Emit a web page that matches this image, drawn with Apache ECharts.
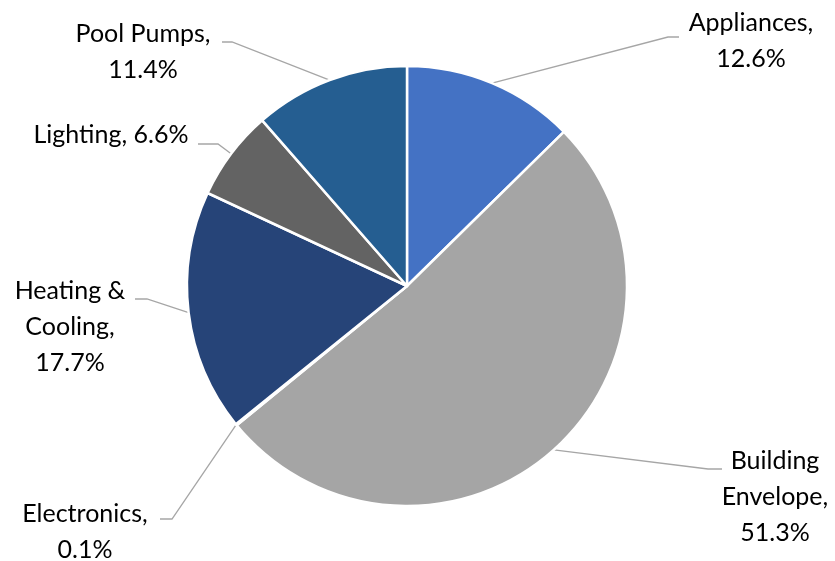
<!DOCTYPE html>
<html>
<head>
<meta charset="utf-8">
<script src="https://cdn.jsdelivr.net/npm/echarts@6/dist/echarts.min.js"></script>
<style>
  html, body { margin: 0; padding: 0; background: #ffffff; }
  #chart { width: 835px; height: 561px; }
</style>
</head>
<body>
<div id="chart"></div>
<script>
// Energy savings share by end use
const categories = ['Appliances', 'Building Envelope', 'Electronics', 'Heating & Cooling', 'Lighting', 'Pool Pumps'];
const shares = [12.6, 51.3, 0.1, 17.7, 6.6, 11.4];

// Slice fills, in category order
const sliceColors = ['#4472C4', '#A5A5A5', '#5B9BD5', '#264478', '#636363', '#255E91'];

// How each label's name is wrapped, and what separates it from the percentage
const labelNames = ['Appliances', 'Building\nEnvelope', 'Electronics', 'Heating &\nCooling', 'Lighting', 'Pool Pumps'];
const labelJoin = ['\n', '\n', '\n', '\n', ' ', '\n'];

// Label placement (block centres) and leader-line elbow / end points
const labelCenter = [[751, 41], [775, 497], [85, 532], [70, 327], [111, 135], [143, 52]];
const leaderElbow = [[668, 37], [708, 469], [172, 519], [147, 299], [218, 144], [232, 42]];
const leaderEnd = [[679, 37], [722, 469], [160, 519], [135, 299], [198, 144], [222, 42]];

const chart = echarts.init(document.getElementById('chart'), null, { renderer: 'canvas' });

const seriesData = categories.map((name, i) => ({
  name: name,
  value: shares[i],
  itemStyle: { color: sliceColors[i] }
}));

chart.setOption({
  animation: false,
  backgroundColor: '#ffffff',
  series: [{
    type: 'pie',
    center: [407, 286],
    radius: 220,
    startAngle: 90,
    clockwise: true,
    avoidLabelOverlap: false,
    data: seriesData,
    itemStyle: { borderColor: '#ffffff', borderWidth: 2.5 },
    emphasis: { disabled: true },
    label: {
      show: true,
      position: 'outside',
      color: '#000000',
      fontFamily: 'Lato',
      fontSize: 25,
      lineHeight: 36,
      align: 'center',
      formatter: function (p) {
        const i = p.dataIndex;
        return labelNames[i] + ',' + labelJoin[i] + shares[i].toFixed(1) + '%';
      }
    },
    labelLine: { show: false },
    labelLayout: function (p) {
      const c = labelCenter[p.dataIndex];
      return { x: c[0], y: c[1], align: 'center', verticalAlign: 'middle' };
    }
  }]
});

// Leader lines: from each slice's arc midpoint to its label
const layoutData = chart.getModel().getSeriesByIndex(0).getData();
const leaders = categories.map((name, i) => {
  const L = layoutData.getItemLayout(i);
  const mid = (L.startAngle + L.endAngle) / 2;
  const start = [L.cx + L.r * Math.cos(mid), L.cy + L.r * Math.sin(mid)];
  return {
    type: 'polyline',
    silent: true,
    shape: { points: [start, leaderElbow[i], leaderEnd[i]] },
    style: { stroke: '#A6A6A6', lineWidth: 1.3, fill: null }
  };
});
chart.setOption({ graphic: leaders });
</script>
</body>
</html>
